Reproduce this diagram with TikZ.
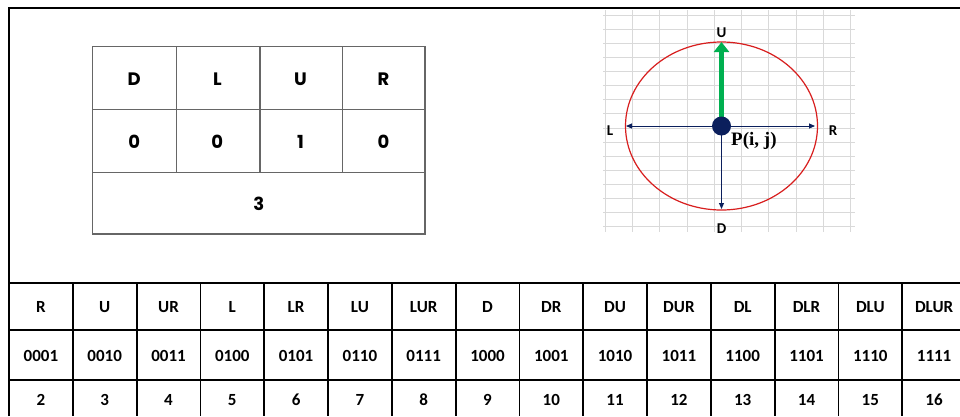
\documentclass[tikz,border=0pt]{standalone}
\usepackage{fontspec}
\usepackage{tikz}
\usetikzlibrary{positioning,arrows.meta,calc}
\newfontfamily\tabfont{Carlito}
\newfontfamily\cellfont{Poppins}
\newfontfamily\pfont{Liberation Serif}
\definecolor{navy}{HTML}{0B1F5C}
\definecolor{arrowgreen}{HTML}{00B050}
\definecolor{circlered}{HTML}{D81E1E}
\definecolor{gridgray}{HTML}{D9D9D9}

\begin{document}
\begin{tikzpicture}[
  x=1pt, y=-1pt,
  cell/.style={font=\cellfont\bfseries\fontsize{18}{20}\selectfont, inner sep=0pt, text height=13pt, text depth=0pt},
  tabcell/.style={font=\tabfont\bfseries\fontsize{17}{19}\selectfont, inner sep=0pt, text height=11pt, text depth=0pt},
  dirlabel/.style={font=\tabfont\bfseries\fontsize{15}{17}\selectfont, inner sep=0pt, text height=10pt, text depth=0pt},
  dirarrow/.style={-{Triangle[width=5pt,length=6pt]}, navy, line width=0.9pt},
  grayline/.style={black!60, line width=1.3pt},
  tabline/.style={black, line width=1.8pt}
]
\clip (0,0) rectangle (960,416);
\fill[white] (0,0) rectangle (960,416);

\draw[tabline] (9,416) -- (9,8) -- (960,8);

% grid behind the compass
\foreach \k in {0,...,9}
  \draw[gridgray, line width=1pt] ({605+27.33*\k},10) -- ({605+27.33*\k},232);
\foreach \k in {0,...,15}
  \draw[gridgray, line width=1pt] (603,{15+14.13*\k}) -- (855,{15+14.13*\k});

\draw[circlered, line width=1.2pt] (721.5,126) ellipse [x radius=96, y radius=84];

\coordinate (P) at (721.5,126);
\coordinate (up) at (721.5,42);
\coordinate (left) at (626,126);
\coordinate (right) at (815,126);
\coordinate (down) at (721.5,209);

\draw[dirarrow] (P) -- (left);
\draw[dirarrow] (P) -- (right);
\draw[dirarrow] (P) -- (down);
\draw[-{Triangle[width=15pt,length=10pt]}, arrowgreen, line width=5pt] (P) -- (up);
\node[circle, fill=navy, minimum size=19pt, inner sep=0pt] (dot) at (P) {};

\node[dirlabel] (labU) at (721.5,32) {U};
\node[dirlabel] (labL) at (610,130) {L};
\node[dirlabel] (labR) at (833,130) {R};
\node[dirlabel] (labD) at (721.5,228) {D};
\node[font=\pfont\bfseries\fontsize{19}{21}\selectfont, anchor=base west, inner sep=0pt] (pij) at (731,145) {P(i, j)};

% code cell
\draw[grayline] (92.7,46.7) rectangle (425,234);
\draw[grayline] (92.7,109.3) -- (425,109.3) (92.7,172.3) -- (425,172.3);
\foreach \x in {176.7,260,342.7}
  \draw[grayline] (\x,46.7) -- (\x,172.3);
\foreach \d/\b [count=\i] in {D/0,L/0,U/1,R/0} {
  \node[cell] (dir-\i) at ({92.7+83.1*(\i-0.5)},79) {\d};
  \node[cell] (bit-\i) at ({92.7+83.1*(\i-0.5)},142) {\b};
}
\node[cell] (val) at (258.8,204) {3};

% lookup table
\draw[tabline] (9,283) -- (960,283) (9,330) -- (960,330) (9,380) -- (960,380);
\foreach \k in {1,...,14}
  \draw[tabline] ({9+63.8*\k},283) -- ({9+63.8*\k},416);
\foreach \n/\c/\v [count=\i] in {R/0001/2,U/0010/3,UR/0011/4,L/0100/5,LR/0101/6,LU/0110/7,LUR/0111/8,D/1000/9,DR/1001/10,DU/1010/11,DUR/1011/12,DL/1100/13,DLR/1101/14,DLU/1110/15,DLUR/1111/16} {
  \node[tabcell] (name-\i) at ({9+63.8*(\i-0.5)},306.5) {\n};
  \node[tabcell] (code-\i) at ({9+63.8*(\i-0.5)},355.5) {\c};
  \node[tabcell] (num-\i) at ({9+63.8*(\i-0.5)},400) {\v};
}
\end{tikzpicture}
\end{document}
